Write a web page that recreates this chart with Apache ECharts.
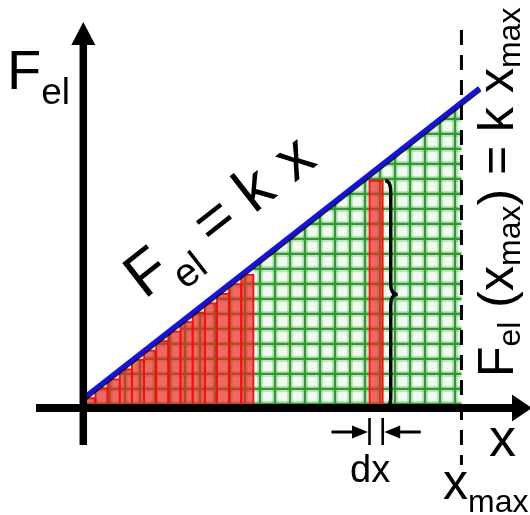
<!DOCTYPE html>
<html>
<head>
<meta charset="utf-8">
<script src="https://cdn.jsdelivr.net/npm/echarts@6/dist/echarts.min.js"></script>
<style>
html, body { margin: 0; padding: 0; background: #ffffff; }
#chart { width: 530px; height: 515px; }
</style>
</head>
<body>
<div id="chart"></div>
<script>
// Spring force F_el = k x and the work under it, in grid-cell units on both axes.
const forceLineX = [0, 26.4];
const forceLineY = [0.67, 21.33];
// Left-endpoint strips under the line
const stepHeights = [0.65, 1.31, 1.91, 2.58, 3.2, 3.82, 4.45, 5.09, 5.73, 6.35, 6.98, 7.6, 8.25, 8.87];
const stepWidth = 0.81;
// Single strip of width dx
const sliceX = 19.08;
const sliceWidth = 0.88;
const sliceHeight = 15.15;
// Maximum extension
const xMaxValue = 25.21;

// ---- layout (pixels) ----
const W = 530, H = 515;
const ORIGIN_X = 83.3, ORIGIN_Y = 408, UNIT = 15;
const xAxisMin = -ORIGIN_X / UNIT, xAxisMax = (W - ORIGIN_X) / UNIT;
const yAxisMin = -(H - ORIGIN_Y) / UNIT, yAxisMax = ORIGIN_Y / UNIT;
const px = v => v / UNIT;          // pixel length -> data length

const GRID_OFF_X = 0.78, GRID_OFF_Y = 0.27;
const FONT = '"Liberation Sans", Arial, sans-serif';
const MID = 0.34;                   // canvas "middle" baseline above alphabetic, in em

const stairsEnd = stepHeights.length * stepWidth;
function lineAt(x) {
  return forceLineY[0] + (forceLineY[1] - forceLineY[0]) * (x - forceLineX[0]) / (forceLineX[1] - forceLineX[0]);
}
function regionTop(x) {
  if (x < stairsEnd) return stepHeights[Math.min(stepHeights.length - 1, Math.floor(x / stepWidth))];
  return lineAt(x);
}
function regionStart(y) {
  for (let i = 0; i < stepHeights.length; i++) if (stepHeights[i] >= y) return i * stepWidth;
  return Math.max(stairsEnd, (y - forceLineY[0]) * (forceLineX[1] - forceLineX[0]) / (forceLineY[1] - forceLineY[0]));
}

// shaded region polygon (staircase + trapezoid under the line up to x_max)
const regionPts = [[0, 0]];
stepHeights.forEach((h, i) => { regionPts.push([i * stepWidth, h], [(i + 1) * stepWidth, h]); });
regionPts.push([stairsEnd, lineAt(stairsEnd)], [xMaxValue, lineAt(xMaxValue)], [xMaxValue, 0]);

// grid segments clipped to the region
const gridSegs = [];
for (let x = GRID_OFF_X; x < xMaxValue; x += 1) gridSegs.push([x, 0, x, regionTop(x)]);
for (let y = GRID_OFF_Y; y < lineAt(xMaxValue); y += 1) gridSegs.push([regionStart(y), y, xMaxValue, y]);

const strips = stepHeights.map((h, i) => [i * stepWidth, h, stepWidth]);

function arrow(p1, p2, lw, headLen, headW, color) {
  const dx = p2[0] - p1[0], dy = p2[1] - p1[1];
  const len = Math.hypot(dx, dy), ux = dx / len, uy = dy / len;
  const bx = p2[0] - ux * headLen, by = p2[1] - uy * headLen;
  return [
    { type: 'line', shape: { x1: p1[0], y1: p1[1], x2: bx + ux, y2: by + uy }, style: { stroke: color, lineWidth: lw } },
    { type: 'polygon', shape: { points: [[p2[0], p2[1]], [bx - uy * headW / 2, by + ux * headW / 2], [bx + uy * headW / 2, by - ux * headW / 2]] }, style: { fill: color } }
  ];
}

// text runs with subscripts
const mctx = document.createElement('canvas').getContext('2d');
function tw(s, size) { mctx.font = size + 'px ' + FONT; return mctx.measureText(s).width; }
function textRun(tokens, x, y, deg) {
  let cx = 0;
  const children = tokens.map(t => {
    const at = t.at !== undefined ? t.at : cx;
    cx = at + tw(t.text, t.size);
    return {
      type: 'text', x: at, y: (t.shift || 0) - MID * t.size,
      style: { text: t.text, font: t.size + 'px ' + FONT, fill: '#000', textAlign: 'left', textVerticalAlign: 'middle', align: 'left', verticalAlign: 'middle' }
    };
  });
  return { type: 'group', x: x, y: y, rotation: (deg || 0) * Math.PI / 180, z: 100, children: children };
}

const chart = echarts.init(document.getElementById('chart'), null, { renderer: 'canvas' });

const option = {
  animation: false,
  grid: { left: 0, right: 0, top: 0, bottom: 0 },
  xAxis: { type: 'value', min: xAxisMin, max: xAxisMax, show: false },
  yAxis: { type: 'value', min: yAxisMin, max: yAxisMax, show: false },
  series: [
    { // light green area
      type: 'custom', z: 1, data: [[0, 0]],
      renderItem: (p, api) => ({ type: 'polygon', shape: { points: regionPts.map(q => api.coord(q)) }, style: { fill: '#f1faf1' } })
    },
    { // soft glow of the grid lines
      type: 'custom', z: 2, data: gridSegs,
      renderItem: (p, api) => {
        const a = api.coord([api.value(0), api.value(1)]), b = api.coord([api.value(2), api.value(3)]);
        return { type: 'line', shape: { x1: a[0], y1: a[1], x2: b[0], y2: b[1] }, style: { stroke: 'rgba(80,185,80,0.3)', lineWidth: 6 } };
      }
    },
    { // grid lines
      type: 'custom', z: 3, data: gridSegs,
      renderItem: (p, api) => {
        const a = api.coord([api.value(0), api.value(1)]), b = api.coord([api.value(2), api.value(3)]);
        return { type: 'line', shape: { x1: a[0], y1: a[1], x2: b[0], y2: b[1] }, style: { stroke: '#2f9a2f', lineWidth: 2.2 } };
      }
    },
    { // strips: staircase and the single dx strip
      type: 'custom', z: 4, data: strips.concat([[sliceX, sliceHeight, sliceWidth]]),
      renderItem: (p, api) => {
        const x = api.value(0), h = api.value(1), w = api.value(2);
        const a = api.coord([x, 0]), b = api.coord([x + w, h]);
        return { type: 'rect', shape: { x: a[0], y: b[1], width: b[0] - a[0], height: a[1] - b[1] },
          style: { fill: 'rgba(238,36,32,0.68)', stroke: '#ff0a0a', lineWidth: 1.8 } };
      }
    },
    { // F_el = k x
      type: 'line', z: 5, symbol: 'none', data: forceLineX.map((x, i) => [x, forceLineY[i]]),
      lineStyle: { color: '#1010f0', width: 4.5, shadowColor: 'rgba(0,0,0,0.85)', shadowOffsetX: 0.8, shadowOffsetY: 1.4, shadowBlur: 0 }
    },
    { // x_max marker
      type: 'line', z: 6, symbol: 'none', data: [[xMaxValue, px(ORIGIN_Y - 30)], [xMaxValue, -px(465 - ORIGIN_Y)]],
      lineStyle: { color: '#000', width: 3, type: [15, 10] }
    },
    { // axes with arrowheads
      type: 'custom', z: 7, data: [[0]],
      renderItem: (p, api) => {
        const xa = arrow(api.coord([px(36 - ORIGIN_X), 0]), api.coord([px(532 - ORIGIN_X), 0]), 8, 20, 27, '#000');
        const ya = arrow(api.coord([0, -px(445 - ORIGIN_Y)]), api.coord([0, px(ORIGIN_Y - 22)]), 7.5, 23, 24, '#000');
        return { type: 'group', children: xa.concat(ya) };
      }
    },
    { // brace beside the dx strip and dx dimension arrows
      type: 'custom', z: 8, data: [[sliceX, sliceHeight, sliceWidth]],
      renderItem: (p, api) => {
        const x = api.value(0), h = api.value(1), w = api.value(2);
        const tl = api.coord([x, 0]), tr = api.coord([x + w, 0]), top = api.coord([x + w, h]);
        const x0 = tr[0] + 2.5, xs = tr[0] + 8, tip = tr[0] + 15;
        const yt = top[1], yb = tr[1], ym = (yt + yb) / 2;
        const d = `M${x0},${yt} Q${xs},${yt} ${xs},${yt + 11} L${xs},${ym - 11} Q${xs},${ym} ${tip},${ym} Q${xs},${ym} ${xs},${ym + 11} L${xs},${yb - 11} Q${xs},${yb} ${x0},${yb}`;
        const ay = tl[1] + 24;
        const kids = [
          { type: 'path', shape: { pathData: d }, style: { stroke: '#000', lineWidth: 3.4, fill: null } },
          { type: 'line', shape: { x1: tl[0], y1: tl[1] + 10, x2: tl[0], y2: tl[1] + 37 }, style: { stroke: '#000', lineWidth: 2.6 } },
          { type: 'line', shape: { x1: tr[0], y1: tr[1] + 10, x2: tr[0], y2: tr[1] + 37 }, style: { stroke: '#000', lineWidth: 2.6 } }
        ].concat(arrow([tl[0] - 38, ay], [tl[0] - 1.5, ay], 3, 16, 13, '#000'))
         .concat(arrow([tr[0] + 38, ay], [tr[0] + 1.5, ay], 3, 16, 13, '#000'));
        return { type: 'group', children: kids };
      }
    }
  ],
  graphic: [
    textRun([{ text: 'F', size: 56 }, { text: 'el', size: 37, shift: 13 }], 7, 93, 0),
    textRun([{ text: 'F', size: 62 }, { text: 'el', size: 40, shift: 16, at: 38 }, { text: '=', size: 62, at: 86 }, { text: 'k', size: 62, at: 139 }, { text: 'x', size: 62, at: 190 }], 147, 303, 38),
    textRun([{ text: 'F', size: 47 }, { text: 'el', size: 31, shift: 14 }], 394, 283, 0),
    textRun([{ text: 'F', size: 50 }, { text: 'el', size: 32, shift: 6 }, { text: ' (x', size: 50 }, { text: 'max', size: 32, shift: 6 }, { text: ') = k x', size: 50 }, { text: 'max', size: 32, shift: 6 }], 516, 377, 90),
    textRun([{ text: 'x', size: 54 }], 489, 459, 0),
    textRun([{ text: 'dx', size: 38 }], 350, 484, 0),
    textRun([{ text: 'x', size: 50 }, { text: 'max', size: 32, shift: 12 }], 443, 502, 0)
  ]
};
chart.setOption(option);
</script>
</body>
</html>
